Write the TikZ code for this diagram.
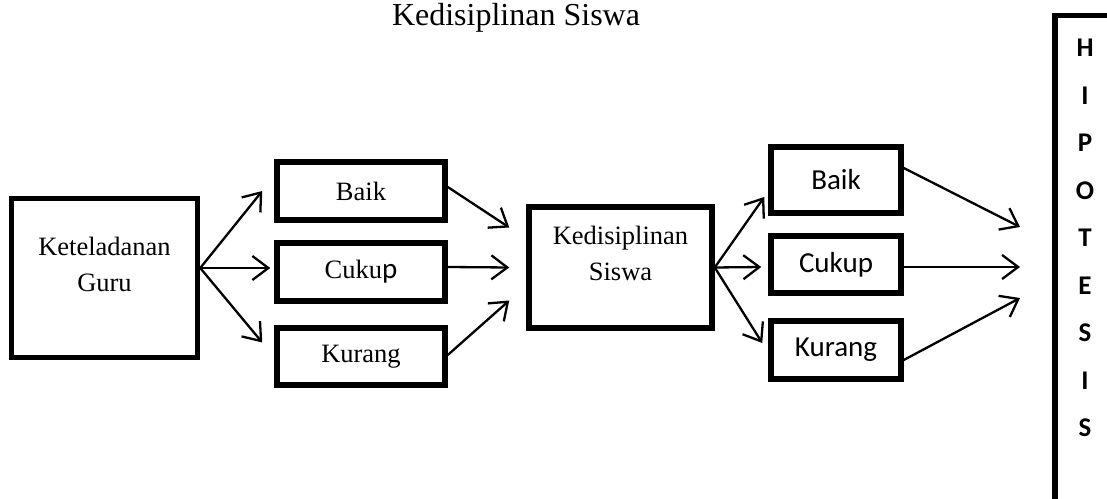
\documentclass[tikz,border=0pt]{standalone}
\usepackage{fontspec}
\setmainfont{Liberation Serif}
\newfontfamily\calibri{Carlito}
\usetikzlibrary{arrows.meta}

\begin{document}
\begin{tikzpicture}[x=1pt, y=1pt,
            box/.style={draw, line width=5.5pt, rectangle, inner sep=0pt, align=center},
            serif/.style={font=\fontsize{26.5}{36}\selectfont},
            sans/.style={font=\calibri\fontsize{29}{35}\selectfont},
            letter/.style={font=\calibri\bfseries\fontsize{27}{30}\selectfont},
            arr/.style={line width=2.3pt, -{Straight Barb[length=16pt, width=24pt]}},
        ]
        \useasboundingbox (0,0) rectangle (1107,498);

        \node[font=\fontsize{32}{38}\selectfont] (title) at (516,480) {Kedisiplinan Siswa};

        % first stage
        \node[box, serif, minimum width=186, minimum height=159] (ket) at (104.5,220) {Keteladanan\\Guru\\[-8pt]\mbox{}};
        \node[box, serif, minimum width=168, minimum height=58] (baik1) at (361,307) {Baik};
        \node[box, serif, minimum width=168, minimum height=58] (cukup1) at (361,226) {Cuku{\calibri\fontsize{29}{35}\selectfont p}};
        \node[box, serif, minimum width=168, minimum height=57] (kurang1) at (361,141.5) {Kurang};

        % second stage
        \node[box, serif, minimum width=183, minimum height=121] (mid) at (620.5,230.5) {Kedisiplinan\\Siswa\\[-8pt]\mbox{}};
        \node[box, sans, minimum width=130, minimum height=66] (baik2) at (836,318) {Baik};
        \node[box, sans, minimum width=130, minimum height=57] (cukup2) at (836,233.5) {Cukup};
        \node[box, sans, minimum width=130, minimum height=58] (kurang2) at (836,148) {Kurang};

        % hipotesis column
        \node[box, anchor=north west, minimum width=66, minimum height=520] (hipo) at (1052,485) {};
        \foreach \l [count=\i] in {H,I,P,O,T,E,S,I,S}
            \node[letter] (hl\i) at (1085, {450-47.5*(\i-1)}) {\l};

        \coordinate (ketout) at ([yshift=10pt]ket.east);
        \coordinate (midin) at ([xshift=-17pt]mid.west);
        \coordinate (hin) at (1020,231);

        \draw[arr] (ketout) -- ([xshift=-12pt]baik1.west);
        \draw[arr] (ketout) -- ([shift={(-4,4)}]cukup1.west);
        \draw[arr] (ketout) -- ([shift={(-12,14)}]kurang1.west);

        \draw[arr] ([yshift=4pt]baik1.east) -- ([yshift=40pt]midin);
        \draw[arr] ([yshift=5pt]cukup1.east) -- (midin);
        \draw[arr] ([yshift=1.5pt]kurang1.east) -- ([yshift=-33pt]midin);

        \draw[arr] (mid.east) -- ([shift={(-4,-17)}]baik2.west);
        \draw[arr] (mid.east) -- ([shift={(-7,-2.5)}]cukup2.west);
        \draw[arr] (mid.east) -- ([shift={(-6,7)}]kurang2.west);

        \draw[arr] ([yshift=12pt]baik2.east) -- ([yshift=40pt]hin);
        \draw[arr] ([yshift=-2.5pt]cukup2.east) -- (hin);
        \draw[arr] ([yshift=-10pt]kurang2.east) -- ([yshift=-31pt]hin);
    \end{tikzpicture}
\end{document}
